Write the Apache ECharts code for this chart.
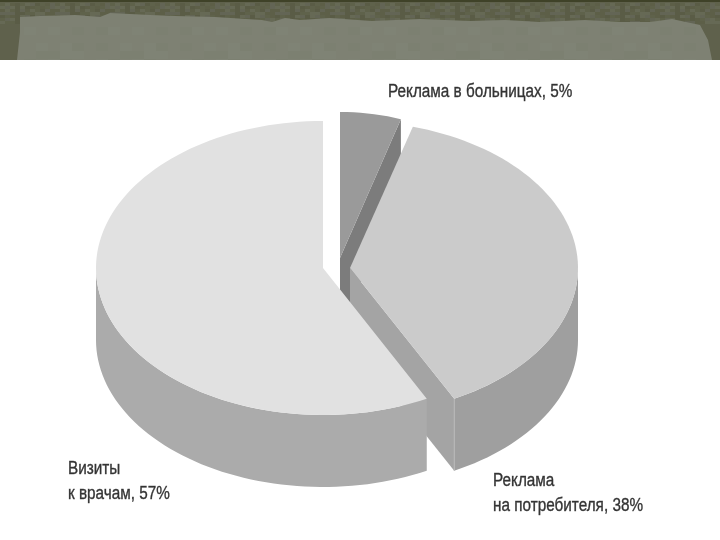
<!DOCTYPE html>
<html><head><meta charset="utf-8">
<style>html,body{margin:0;padding:0;background:#fff}#c{width:720px;height:540px}</style>
<script src="https://cdn.jsdelivr.net/npm/echarts@6/dist/echarts.min.js"></script>
</head><body><div id="c"></div>
<script>
var sliceNames = ['Реклама в больницах, 5%', 'Реклама\nна потребителя, 38%', 'Визиты\nк врачам, 57%'];
var sliceShares = [5, 38, 57];
var topColors = ['#9a9a9a', '#cbcbcb', '#e1e1e1'];
var outerColors = ['#8c8c8c', '#9f9f9f', '#ababab'];
var cutColors = ['#7c7c7c', '#a4a4a4', '#ababab'];
var centersX = [340, 350, 323];
var centersY = [258, 268, 268];
var radiiX = [197, 228, 227];
var radiiY = [146, 147, 147];
var angleNudge = [0, -2, -2];
var depth = 72;
var labelX = [388, 493, 68];
var labelY = [92, 494, 482];

var total = sliceShares.reduce(function (a, b) { return a + b; }, 0);
function pt(i, deg, drop) {
  var r = deg * Math.PI / 180;
  return [centersX[i] + radiiX[i] * Math.sin(r), centersY[i] - radiiY[i] * Math.cos(r) + (drop || 0)];
}
function arc(i, a, b, drop) {
  var out = [], n = Math.max(2, Math.ceil(Math.abs(b - a) / 2));
  for (var k = 0; k <= n; k++) out.push(pt(i, a + (b - a) * k / n, drop));
  return out;
}
function renderItem(params, api) {
  var i = params.dataIndex, before = 0;
  for (var k = 0; k < i; k++) before += sliceShares[k];
  var value = api.value(0);
  var a0 = before / total * 360 + angleNudge[i];
  var a1 = a0 + value / total * 360;
  if (i === sliceShares.length - 1) a1 = 360;
  var children = [];
  if (a1 < 180) {
    var e0 = [centersX[i], centersY[i]], e1 = pt(i, a1, 0);
    children.push({ type: 'polygon', shape: { points: [e0, e1, [e1[0], e1[1] + depth], [e0[0], e0[1] + depth]] },
      style: { fill: cutColors[i] } });
  }
  var w0 = Math.max(a0, 90), w1 = Math.min(a1, 270);
  if (w1 > w0) {
    var wall = arc(i, w0, w1, 0).concat(arc(i, w1, w0, depth));
    children.push({ type: 'polygon', shape: { points: wall }, style: { fill: outerColors[i] } });
    if (a1 < 180) {
      var c = pt(i, a1, 0);
      children.push({ type: 'line', shape: { x1: c[0], y1: c[1], x2: c[0], y2: c[1] + depth },
        style: { stroke: '#b8b8b8', lineWidth: 1 } });
    }
  }
  var top = [[centersX[i], centersY[i]]].concat(arc(i, a0, a1, 0));
  children.push({ type: 'polygon', shape: { points: top }, style: { fill: topColors[i] } });
  children.push({ type: 'text', x: labelX[i], y: labelY[i], scaleX: 0.85, style: { text: sliceNames[i], x: 0, y: 0,
    fill: '#333333', stroke: '#555555', lineWidth: 0.4, font: '18px "Liberation Sans", sans-serif',
    lineHeight: 25, verticalAlign: 'middle', textVerticalAlign: 'middle' } });
  return { type: 'group', children: children };
}
var paper = [[17,60],[20,32],[20,17],[40,16],[75,15],[100,17],[110,13],[150,15],[175,16],[215,17],[262,20],[272,22],[285,18],[300,20],[330,18],[372,21],[420,19],[470,21],[505,20],[540,22],[585,20],[620,22],[650,22],[672,19],[700,25],[708,40],[712,60]];
var g = [{ type: 'rect', silent: true, shape: { x: 0, y: 0, width: 720, height: 60 }, style: { fill: '#5f614c' } }];
g.push({ type: 'rect', silent: true, shape: { x: 0, y: 0, width: 720, height: 2 }, style: { fill: '#3f4228' } });
var shades = ['#585a44', '#65675a', '#5c5e47', '#6a6c5a', '#60624c'];
for (var bx = 0; bx < 720; bx += 5) {
  for (var by = 3; by < 24; by += 3) {
    var h = (bx * 7 + by * 13 + (bx * by) % 11) % 5;
    g.push({ type: 'rect', silent: true, shape: { x: bx, y: by, width: 5, height: 3 }, style: { fill: shades[h], opacity: 0.7 } });
  }
}
g.push({ type: 'polygon', silent: true, shape: { points: paper }, style: { fill: '#7e8173' } });
for (var px = 24; px < 688; px += 12) {
  for (var py = 27; py < 60; py += 8) {
    var s = (px * 5 + py * 3 + (px * py) % 7) % 3;
    if (s) g.push({ type: 'rect', silent: true, shape: { x: px, y: py, width: 12, height: Math.min(8, 60 - py) }, style: { fill: s === 1 ? '#808376' : '#7c7f71', opacity: 0.8 } });
  }
}

var chart = echarts.init(document.getElementById('c'), null, { renderer: 'canvas' });
chart.setOption({
  animation: false,
  backgroundColor: '#ffffff',
  graphic: g,
  series: [{
    type: 'custom', coordinateSystem: 'none', renderItem: renderItem, silent: true,
    data: sliceShares.map(function (v, i) { return { name: sliceNames[i], value: [v] }; })
  }]
});
</script></body></html>
